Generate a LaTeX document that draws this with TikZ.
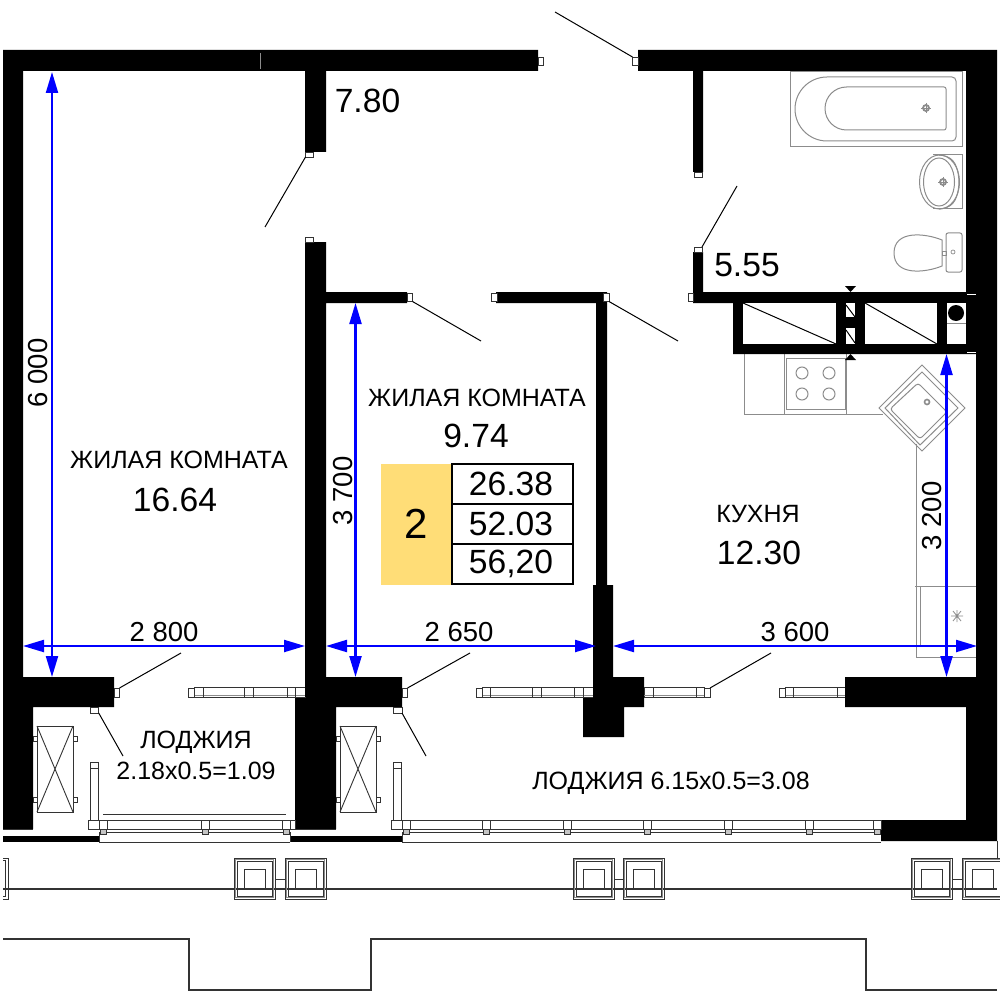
\documentclass[tikz,border=0pt]{standalone}
\usepackage{fontspec}
\setmainfont{Liberation Sans}
\usetikzlibrary{arrows.meta}
\definecolor{fix}{HTML}{8C8C8C}
\definecolor{dk}{HTML}{333333}
\definecolor{tabyellow}{HTML}{FFDD77}
\tikzset{
 wall/.style={fill=black,draw=none},
 hole/.style={fill=white,draw=none},
 mk/.style={draw=dk,fill=white,line width=0.9pt},
 door/.style={draw=black,line width=1pt},
 fixt/.style={draw=fix,line width=1pt},
 thin1/.style={draw=dk,line width=0.9pt},
 dim/.style={draw=blue,line width=2.2pt,{Triangle[length=21pt,width=12pt]}-{Triangle[length=21pt,width=12pt]}},
 lab/.style={font=\fontsize{25}{25}\selectfont,inner sep=0pt,text=black},
 big/.style={font=\fontsize{33.6}{33.6}\selectfont,inner sep=0pt,text=black},
 dimt/.style={font=\fontsize{27.5}{27.5}\selectfont,inner sep=0pt,text=black},
}
\newcommand{\mkr}[4]{\draw[mk] (#1,#2) rectangle (#3,#4);}
\newcommand{\win}[3]{% x1 x2 marker handled apart
 \draw[mk] (#1,687) rectangle (#2,697);
 \draw[draw=fix,line width=1.2pt] (#1,695.5) -- (#2,695.5);
 \foreach \d in {#3} {\draw[thin1] (\d,687) -- (\d,697);}
}
\begin{document}
\begin{tikzpicture}[x=1pt,y=-1pt]
\path[use as bounding box,fill=white] (0,0) rectangle (1000,1000);
% fixtures: bath
\draw[fixt] (790,72) rectangle (962,147);
\draw[fixt] (827,77) -- (952,77) arc[start angle=-90,end angle=0,radius=4] -- (956,137) arc[start angle=0,end angle=90,radius=4] -- (827,141) arc[start angle=90,end angle=270,radius=32] -- cycle;
\draw[fixt] (846.5,87) -- (944,87) arc[start angle=-90,end angle=0,radius=2] -- (946,128) arc[start angle=0,end angle=90,radius=2] -- (846.5,130) arc[start angle=90,end angle=270,radius=21.5] -- cycle;
\draw[fix,line width=1.8pt] (926,108) circle[radius=3];
\draw[fix,line width=0.8pt] (921,108) -- (931,108) (926,103) -- (926,113);
% sink
\draw[fixt] (933,155) -- (962,155) -- (962,209) -- (933,209);
\draw[fixt] (939,155) .. controls (950,156) and (958,160) .. (959,182) .. controls (958,204) and (950,208) .. (939,209);
\draw[fixt] (939.5,182) ellipse[x radius=20,y radius=27];
\draw[fixt] (939,182) ellipse[x radius=15.5,y radius=24];
\draw[fix,line width=1.8pt] (943,182) circle[radius=3];
\draw[fix,line width=0.8pt] (938,182) -- (948,182) (943,177) -- (943,187);
% toilet
\draw[fixt,rounded corners=2pt] (946,233) rectangle (962,272);
\draw[fixt] (942,240) .. controls (925,233) and (894,230) .. (894,253) .. controls (894,276) and (925,273) .. (942,266) -- cycle;
\draw[fixt] (942,251) rectangle (946,255);
\draw[fix,line width=0.7pt] (953,252) circle[radius=2];
% kitchen
\draw[fixt] (846,414) -- (744,414) -- (744,354);
\draw[fixt] (784,354) -- (784,414);
\draw[fixt] (846,354) -- (846,414) -- (883,414);
\draw[fixt] (786,358) rectangle (845,409);
\foreach \a/\b in {802/373,829/373,802/394,829/394} {\draw[fixt] (\a,\b) circle[radius=6];}
\draw[fixt] (922,365) -- (965,408) -- (922,451) -- (879,408) -- cycle;
\draw[fixt] (922,372) -- (958,408) -- (920,445) -- (885,408) -- cycle;
\draw[fixt,rounded corners=3pt] (918,383) -- (947,412) -- (920,439) -- (890,409) -- cycle;
\draw[fix,line width=1.6pt] (927,402) circle[radius=2.5];
\draw[fixt] (916,444) -- (916,657) -- (977,657) -- (977,586) -- (915,586);
\draw[fixt] (920,586) -- (920,645);
\draw[fix,line width=0.8pt] (951,616) -- (963,616) (953,611) -- (961,621) (961,611) -- (953,621) (957,610) -- (957,622);
% walls
\fill[wall] (3,50) -- (538,50) -- (538,71) -- (326,71) -- (326,152) -- (305,152) -- (305,71) -- (23,71) -- (23,677) -- (114,677) -- (114,707) -- (33,707) -- (33,829) -- (3,829) -- cycle;
\fill[wall] (305,242) -- (326,242) -- (326,292) -- (407,292) -- (407,303) -- (326,303) -- (326,677) -- (402,677) -- (402,707) -- (336,707) -- (336,829) -- (295,829) -- (295,697) -- (305,697) -- cycle;
\fill[wall] (496,292) -- (607,292) -- (607,585) -- (613,585) -- (613,677) -- (644,677) -- (644,707) -- (624,707) -- (624,737) -- (583,737) -- (583,697) -- (593,697) -- (593,585) -- (596,585) -- (596,303) -- (496,303) -- cycle;
\fill[wall] (638,50) -- (997,50) -- (997,841) -- (881,841) -- (881,820) -- (966,820) -- (966,707) -- (845,707) -- (845,677) -- (976,677) -- (976,354) -- (733,354) -- (733,303) -- (693,303) -- (693,252) -- (703,252) -- (703,292) -- (966,292) -- (966,71) -- (703,71) -- (703,172) -- (693,172) -- (693,71) -- (638,71) -- cycle;
\fill[hole] (743,303) rectangle (836,344);
\fill[hole] (846,303) rectangle (855,317);
\fill[hole] (846,328) rectangle (855,344);
\fill[hole] (865,303) rectangle (937,344);
\fill[hole] (947,303) rectangle (966,344);
\draw[draw=fix,line width=0.8pt] (947,323) -- (966,323);
\fill[black] (956,313) circle[radius=8];
\draw[door] (743,303) -- (836,344) (865,303) -- (937,344) (846,305) -- (855,317) (846,330) -- (855,343);
\draw[draw=white,line width=1pt] (967,294) -- (976,294) (967,352) -- (976,352);
\draw[draw=fix,line width=0.7pt] (260,53) -- (260,69);
\fill[black] (845,286) -- (856,286) -- (850.5,292) -- cycle;
\fill[black] (845,360) -- (856,360) -- (850.5,354) -- cycle;
% door markers
\mkr{538}{57}{543.5}{65} \mkr{632.5}{57}{638}{65}
\mkr{305.5}{152}{313}{157} \mkr{305.5}{237}{313}{242}
\mkr{407}{293}{412.5}{301.5} \mkr{491.5}{293}{497}{301.5} \mkr{603.5}{293}{609}{301.5}
\mkr{694}{172}{702}{177} \mkr{694}{247}{702}{252} \mkr{688}{293}{693.5}{301.5}
\draw[door] (555,12) -- (632.5,57) (305.5,157) -- (265,227) (412.5,301.5) -- (481,341) (609,301.5) -- (678,341) (702,247) -- (737,186);
% windows
\win{194}{305}{203,244,253,287,295}
\win{482}{593}{490.5,532,541,574,583}
\win{644}{704}{653,696}
\win{785}{845}{793,837}
\fill[hole] (296,688) rectangle (304.5,695);
\fill[hole] (584,688) rectangle (592.5,695);
\fill[wall] (593,680) rectangle (644,707);
\fill[wall] (845,677) rectangle (860,707);
\fill[wall] (305,677) rectangle (326,697);
\mkr{188}{688}{194}{697} \mkr{476}{688}{482}{697} \mkr{704}{688}{710}{697} \mkr{779}{688}{785}{697}
\mkr{114}{688}{119.5}{697} \mkr{90}{707}{98.7}{713}
\mkr{402}{688}{407.5}{697} \mkr{393}{707}{402}{713}
\draw[door] (119.5,688) -- (181,653) (98.7,713) -- (123,756) (407.5,688) -- (470,653) (402,713) -- (426,756) (710,688) -- (771,653);
% loggia units
\foreach \x in {37,340} {
 \draw[mk] (\x-4,736) rectangle (\x,741); \draw[mk] (\x-4,797) rectangle (\x,802);
 \draw[mk] (\x+36,736) rectangle (\x+40,741); \draw[mk] (\x+36,797) rectangle (\x+40,802);
 \draw[mk] (\x,726) rectangle (\x+36,812);
 \draw[thin1] (\x,726) -- (\x+36,812) (\x+36,726) -- (\x,812);
}
\foreach \x in {90,393} {
 \draw[mk] (\x,762) rectangle (\x+8.7,820);
 \draw[thin1] (\x,768) -- (\x+8.7,768);
}
\draw[thin1] (103,814) -- (286,814);
% balustrades
\draw[thin1] (3,829) -- (33,829) (295,829) -- (336,829);
\fill[black] (3,836) rectangle (99,842);
\fill[black] (290,836) rectangle (402,842);
\draw[mk] (88,820) rectangle (295,829);
\draw[mk] (391,820) rectangle (881,829);
\draw[thin1] (99,829) -- (290,829) (99,832) -- (290,832) (99,842) -- (290,842) (99,832) -- (99,842) (290,832) -- (290,842);
\draw[thin1] (402,829) -- (881,829) (402,832) -- (881,832) (402,842) -- (881,842) (402,832) -- (402,842);
\foreach \x in {99,201.5,282.5,402,482,563,643.5,724.5,805,873} {
 \draw[mk] (\x,820) rectangle (\x+8,829);
 \draw[mk,fill=fix!50] (\x+1,829) rectangle (\x+7,834);
}
% columns
\draw[draw=dk,line width=1.4pt] (3,889) -- (997,889);
\draw[thin1] (997,841) -- (997,858);
\draw[thin1] (3,858) -- (8,858) -- (8,899) -- (3,899) (3,860.5) -- (5.5,860.5) -- (5.5,896.5) -- (3,896.5);
\foreach \x in {234,285,573,623,911,962} {
 \draw[thin1] (\x,858) rectangle (\x+41,899);
 \draw[draw=fix,line width=1.4pt] (\x+1.7,859.7) rectangle (\x+39.3,897.3);
 \draw[thin1] (\x+3,861) rectangle (\x+38,896);
 \draw[thin1] (\x+10,869) rectangle (\x+31,889);
}
\foreach \x in {275,614,952} {\draw[thin1] (\x,879) -- (\x+10,879);}
\draw[draw=dk,line width=1.2pt] (3,939) -- (189,939) -- (189,990) -- (371,990) -- (371,939) -- (866,939) -- (866,990) -- (997,990);
% table
\fill[tabyellow] (381,464) rectangle (452,585);
\draw[draw=black,line width=1.2pt] (452,464) rectangle (573,584) (452,504) -- (573,504) (452,544) -- (573,544);
\node[big] (t1) at (511,484) {26.38};
\node[big] (t2) at (511,524) {52.03};
\node[big] (t3) at (511,564) {56,20};
\node[font=\fontsize{42}{42}\selectfont,inner sep=0pt] (t0) at (416,524) {2};
% dims
\draw[dim] (52,72) -- (52,677);
\draw[dim] (355.5,303) -- (355.5,677);
\draw[dim] (946.5,354) -- (946.5,677);
\draw[dim] (23,646) -- (305,646);
\draw[dim] (326,646) -- (596,646);
\draw[dim] (613,646) -- (977,646);
\node[dimt] (d1) at (164,632) {2 800};
\node[dimt] (d2) at (459,632) {2 650};
\node[dimt] (d3) at (795,632) {3 600};
\node[dimt,rotate=90] (d4) at (38,373) {6 000};
\node[dimt,rotate=90] (d5) at (343,491) {3 700};
\node[dimt,rotate=90] (d6) at (932,516) {3 200};
% labels
\node[big] (n1) at (367.5,101) {7.80};
\node[big] (n2) at (747,265) {5.55};
\node[lab] (n3) at (179,460) {ЖИЛАЯ КОМНАТА};
\node[big] (n4) at (175,500) {16.64};
\node[lab] (n5) at (477,398) {ЖИЛАЯ КОМНАТА};
\node[big] (n6) at (476,436) {9.74};
\node[lab] (n7) at (758,514) {КУХНЯ};
\node[big] (n8) at (759,553) {12.30};
\node[lab] (n9) at (196,742) {ЛОДЖИЯ};
\node[lab] (n10) at (196,771) {2.18x0.5=1.09};
\node[lab] (n11) at (671,783) {ЛОДЖИЯ 6.15x0.5=3.08};
\end{tikzpicture}
\end{document}
